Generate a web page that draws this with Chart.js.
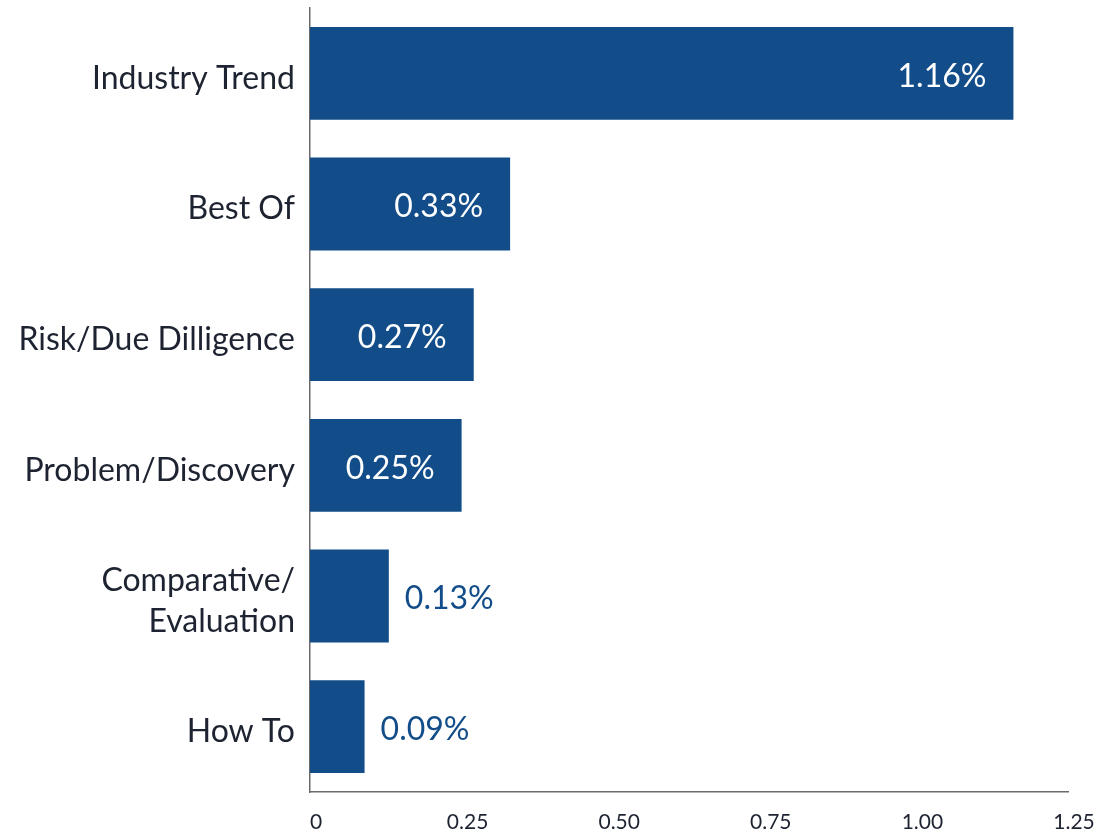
<!DOCTYPE html>
<html>
<head>
<meta charset="utf-8">
<script src="https://cdn.jsdelivr.net/npm/chart.js@4"></script>
<style>
  html, body { margin: 0; padding: 0; background: #fff; }
  #wrap { width: 1101px; height: 833px; }
</style>
</head>
<body>
<div id="wrap"><canvas id="chart"></canvas></div>
<script>
const categories = ['Industry Trend', 'Best Of', 'Risk/Due Dilligence', 'Problem/Discovery', ['Comparative/', 'Evaluation'], 'How To'];
const values = [1.16, 0.33, 0.27, 0.25, 0.13, 0.09];
const xTicks = [0, 0.25, 0.5, 0.75, 1.0, 1.25];
const tickLabels = ['0', '0.25', '0.50', '0.75', '1.00', '1.25'];

const barColor = '#124d89';
const textColor = '#1d2330';
const fontFamily = 'Lato, "Open Sans", sans-serif';

// draws the % labels, white inside the long bars, blue past the short ones
const valueLabels = {
    id: 'valueLabels',
    afterDatasetsDraw(chart) {
        const ctx = chart.ctx;
        const meta = chart.getDatasetMeta(0);
        ctx.save();
        ctx.font = '32px ' + fontFamily;
        ctx.textBaseline = 'middle';
        meta.data.forEach((bar, i) => {
            const text = values[i].toFixed(2) + '%';
            if (values[i] >= 0.2) {
                ctx.fillStyle = '#ffffff';
                ctx.textAlign = 'right';
                ctx.fillText(text, bar.x - 27, bar.y + 3);
            } else {
                ctx.fillStyle = barColor;
                ctx.textAlign = 'left';
                ctx.fillText(text, bar.x + 16, bar.y + 3);
            }
        });
        ctx.restore();
    }
};

new Chart(document.getElementById('chart').getContext('2d'), {
    type: 'bar',
    data: {
        labels: categories,
        datasets: [{
            data: values,
            backgroundColor: barColor,
            categoryPercentage: 1,
            barPercentage: 0.71
        }]
    },
    options: {
        indexAxis: 'y',
        responsive: true,
        maintainAspectRatio: false,
        animation: false,
        layout: { padding: { top: 8, right: 33, left: 0, bottom: 0 } },
        plugins: {
            legend: { display: false },
            tooltip: { enabled: false }
        },
        scales: {
            x: {
                min: 0,
                max: 1.25,
                afterBuildTicks: (axis) => { axis.ticks = xTicks.map(v => ({ value: v })); },
                afterFit: (scale) => {
                    scale.height = 41;
                    scale.paddingLeft = 0;
                    scale.paddingRight = 0;
                },
                grid: { display: false, drawTicks: false },
                border: { color: '#6b6b6b', width: 1.5 },
                ticks: {
                    color: textColor,
                    font: { family: fontFamily, size: 21 },
                    padding: 18,
                    labelOffset: 6,
                    callback: (v, i) => tickLabels[i]
                }
            },
            y: {
                afterFit: (scale) => {
                    scale.width = 310;
                    scale.paddingTop = 0;
                    scale.paddingBottom = 0;
                },
                grid: { display: false, drawTicks: false },
                border: { color: '#6b6b6b', width: 1.5 },
                ticks: {
                    color: textColor,
                    font: { family: fontFamily, size: 32, lineHeight: 1.3 },
                    padding: 15,
                    labelOffset: 5
                }
            }
        }
    },
    plugins: [valueLabels]
});
</script>
</body>
</html>
